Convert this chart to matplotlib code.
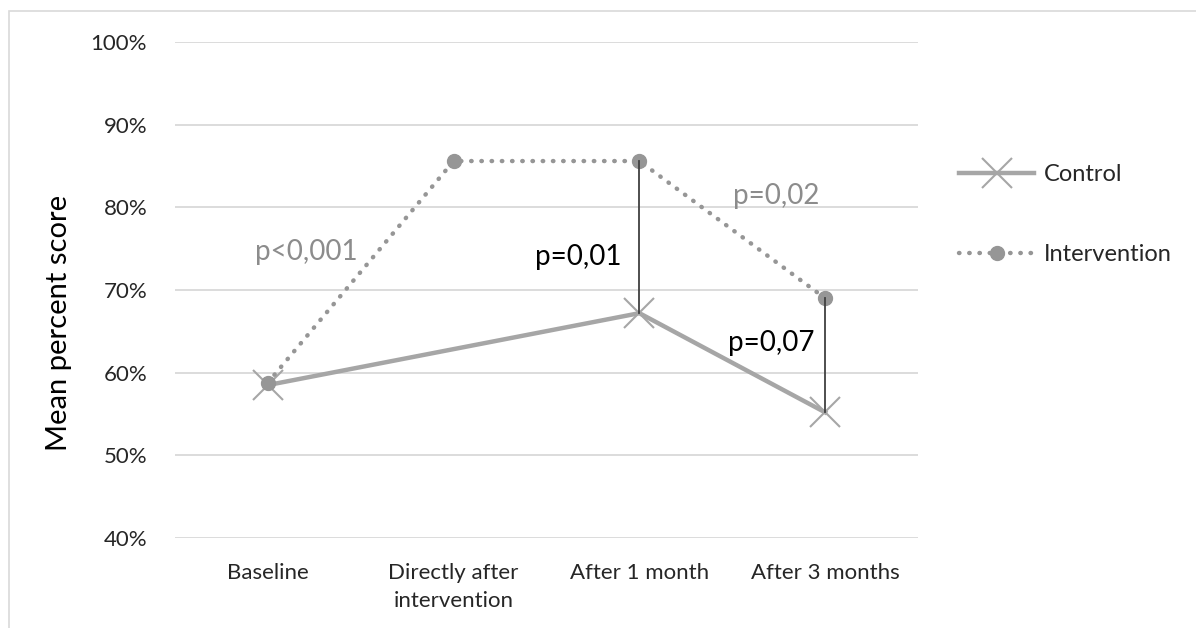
import matplotlib.pyplot as plt
import matplotlib.patches as patches
import numpy as np

plt.rcParams['font.family'] = ['Lato', 'DejaVu Sans']

# Data
categories = ['Baseline', 'Directly after\nintervention', 'After 1 month', 'After 3 months']
control = [0.585, None, 0.672, 0.552]
intervention = [0.588, 0.856, 0.856, 0.690]
y_ticks = [0.4, 0.5, 0.6, 0.7, 0.8, 0.9, 1.0]

fig = plt.figure(figsize=(11.96, 6.28), dpi=100)
ax = fig.add_axes([0.1463, 0.1433, 0.6213, 0.7898])

# outer border of the chart
fig.patches.append(patches.Rectangle((9 / 1196, -0.01), 1.2, 1 - 11 / 628 + 0.01,
                                     transform=fig.transFigure, fill=False,
                                     edgecolor='#d9d9d9', linewidth=1.2))

x = np.arange(len(categories))
cx = [i for i, v in zip(x, control) if v is not None]
cy = [v for v in control if v is not None]

ctrl_color = '#a6a6a6'
int_color = '#969696'

ax.plot(x, intervention, color=int_color, linewidth=3.2, linestyle=(0, (0.1, 2.2)),
        dash_capstyle='round', marker='o', markersize=10, label='Intervention', zorder=3)
ax.plot(cx, cy, color=ctrl_color, linewidth=3.2, marker='x', markersize=21,
        markeredgewidth=1.5, label='Control', zorder=2)

# connecting lines for significance
ax.plot([2, 2], [intervention[2], control[2]], color='#404040', linewidth=1.3, zorder=4)
ax.plot([3, 3], [intervention[3], control[3]], color='#404040', linewidth=1.3, zorder=4)

ax.text(-0.07, 0.746, 'p<0,001', fontsize=20, color='#8c8c8c', ha='left', va='center')
ax.text(1.437, 0.740, 'p=0,01', fontsize=20, color='black', ha='left', va='center')
ax.text(2.503, 0.814, 'p=0,02', fontsize=20, color='#8c8c8c', ha='left', va='center')
ax.text(2.476, 0.636, 'p=0,07', fontsize=20, color='black', ha='left', va='center')

ax.set_xlim(-0.5, 3.5)
ax.set_ylim(0.4, 1.0)
ax.set_yticks(y_ticks)
ax.set_yticklabels([f'{int(round(t * 100))}%' for t in y_ticks])
ax.set_xticks(x)
ax.set_xticklabels(categories, linespacing=1.5)
ax.grid(axis='y', color='#d9d9d9', linewidth=1.3)
ax.set_axisbelow(True)
for s in ax.spines.values():
    s.set_visible(False)
ax.tick_params(length=0, labelsize=16, colors='#262626', pad=20)
ax.tick_params(axis='x', pad=18)
ax.set_ylabel('Mean percent score', fontsize=21, color='black')
ax.yaxis.set_label_coords(-0.139, 0.4335)

handles, labels = ax.get_legend_handles_labels()
leg = fig.legend(handles[::-1], labels[::-1], loc='upper left', bbox_to_anchor=(0.784, 0.772),
                 frameon=False, fontsize=17, handlelength=3.2, labelspacing=2.5,
                 handletextpad=0.4)
for t in leg.get_texts():
    t.set_color('#262626')

plt.savefig('out.png', dpi=100, facecolor='white')
plt.close()
